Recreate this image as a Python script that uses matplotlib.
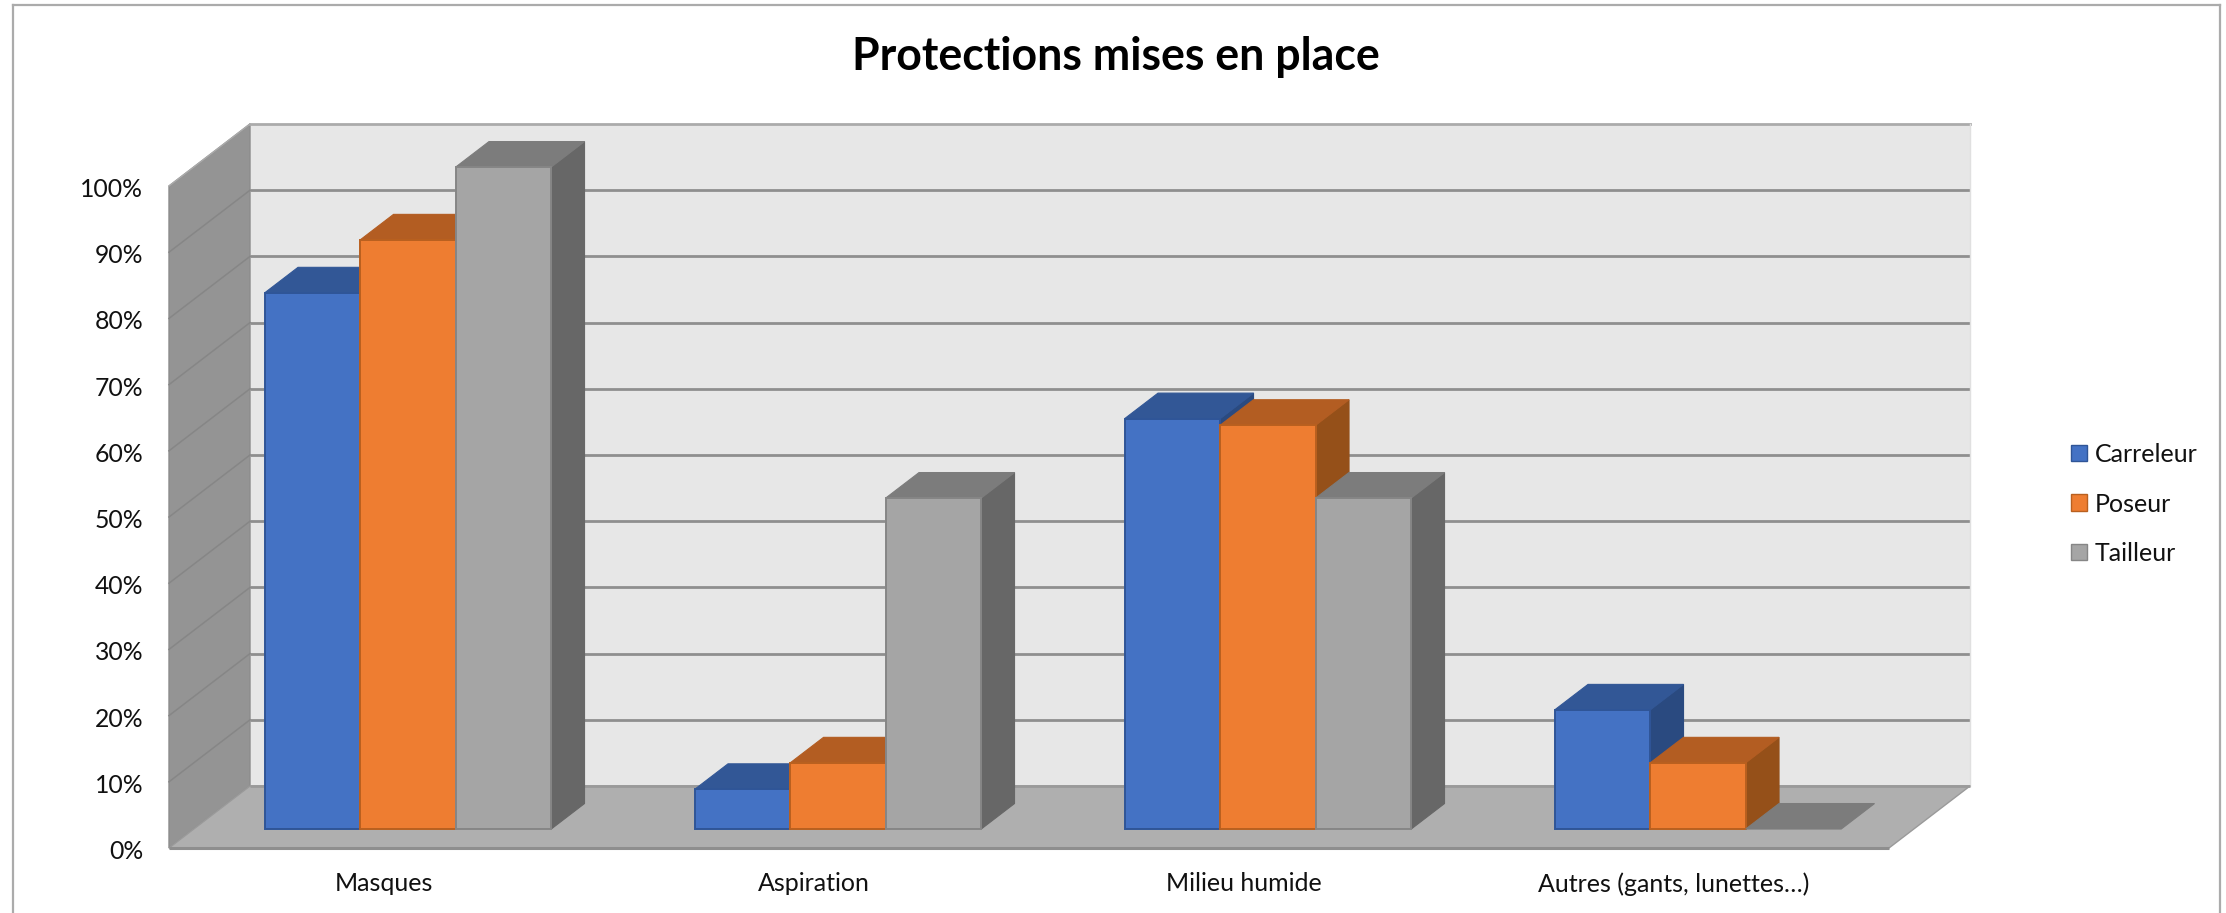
import matplotlib
matplotlib.use("Agg")
import matplotlib.pyplot as plt
from matplotlib.patches import Polygon, Patch
from matplotlib.lines import Line2D

plt.rcParams['font.family'] = ['Lato', 'DejaVu Sans']

title = "Protections mises en place"
categories = ["Masques", "Aspiration", "Milieu humide", "Autres (gants, lunettes…)"]
series_names = ["Carreleur", "Poseur", "Tailleur"]
carreleur = [81, 6, 62, 18]
poseur = [89, 10, 61, 10]
tailleur = [100, 50, 50, 0]
y_ticks = [0, 10, 20, 30, 40, 50, 60, 70, 80, 90, 100]
y_labels = ["0%", "10%", "20%", "30%", "40%", "50%", "60%", "70%", "80%", "90%", "100%"]

W, H = 2226, 913
fig = plt.figure(figsize=(W / 100, H / 100), dpi=100, facecolor="white")
ax = fig.add_axes([169 / W, (H - 848) / H, 1720 / W, 662 / H])
ax.set_xlim(0, len(categories))
ax.set_ylim(0, 100)
ax.patch.set_visible(False)
for s in ax.spines.values():
    s.set_visible(False)

# oblique projection of the depth axis, in data units
DX, DY = 81 / 430, 62 / 6.62


def P(x, y, d):
    return (x + d * DX, y + d * DY)


n = len(categories)
top = y_ticks[-1]
ax.add_patch(Polygon([P(0, 0, 1), P(n, 0, 1), P(n, top, 1), P(0, top, 1)], fc="#E7E7E7", ec="none", zorder=1, clip_on=False))
ax.add_patch(Polygon([P(0, 0, 0), P(0, 0, 1), P(0, top, 1), P(0, top, 0)], fc="#949494", ec="#8C8C8C", lw=1, zorder=2, clip_on=False))
for v in y_ticks[1:-1]:
    ax.plot(*zip(P(0, v, 1), P(n, v, 1)), color="#8F8F8F", lw=2.0, zorder=3, clip_on=False, solid_capstyle="butt")
    ax.plot(*zip(P(0, v, 0), P(0, v, 1)), color="#868686", lw=1.1, zorder=3, clip_on=False)
ax.plot(*zip(P(0, top, 1), P(n, top, 1)), color="#ABABAB", lw=2.0, zorder=3, clip_on=False)
ax.plot(*zip(P(0, top, 0), P(0, top, 1)), color="#ABABAB", lw=1.0, zorder=3, clip_on=False)
ax.plot(*zip(P(n, 0, 1), P(n, top, 1)), color="#E0E0E0", lw=1.0, zorder=3, clip_on=False)
ax.add_patch(Polygon([P(0, 0, 0), P(n, 0, 0), P(n, 0, 1), P(0, 0, 1)], fc="#AFAFAF", ec="#9A9A9A", lw=1.0, zorder=4, clip_on=False))
ax.plot(*zip(P(0, 0, 0), P(n, 0, 0)), color="#8E8E8E", lw=2.2, zorder=4.5, clip_on=False, solid_capstyle="butt")
ax.plot(*zip(P(0, 0, 1), P(n, 0, 1)), color="#9A9A9A", lw=2.0, zorder=4.5, clip_on=False, solid_capstyle="butt")

# bars
D0, D1 = 0.306, 0.717
BW = 95.5 / 430
GAP = 0.165
styles = [
    dict(front="#4472C4", edge="#2F5597", top="#325796", side="#2A4A80"),
    dict(front="#EE7D31", edge="#B9601F", top="#B35D22", side="#955019"),
    dict(front="#A5A5A5", edge="#868686", top="#7C7C7C", side="#676767"),
]
z = 5
for i in range(n):
    for j, vals in enumerate([carreleur, poseur, tailleur]):
        v = vals[i]
        st = styles[j]
        x0 = i + GAP + j * BW
        x1 = x0 + BW
        if v > 0:
            ax.add_patch(Polygon([P(x1, 0, D0), P(x1, 0, D1), P(x1, v, D1), P(x1, v, D0)],
                                 fc=st["side"], ec=st["side"], lw=0.8, zorder=z, clip_on=False))
        ax.add_patch(Polygon([P(x0, v, D0), P(x1, v, D0), P(x1, v, D1), P(x0, v, D1)],
                             fc=st["top"], ec=st["top"], lw=0.8, zorder=z + 0.1, clip_on=False))
        if v > 0:
            xb, yb = P(x0, 0, D0)
            ax.bar(xb, v, width=BW, bottom=yb, align="edge", color=st["front"],
                   edgecolor=st["edge"], linewidth=1.4, zorder=z + 0.2, clip_on=False)
        z += 1

ax.set_yticks(y_ticks)
ax.set_yticklabels(y_labels)
ax.set_xticks([i + 0.5 for i in range(n)])
ax.set_xticklabels(categories)
ax.tick_params(axis="y", length=0, pad=18.5, labelsize=17.8, labelcolor="#111111")
for lab in ax.get_yticklabels():
    lab.set_y(lab.get_position()[1])
    lab.set_transform(lab.get_transform() + matplotlib.transforms.ScaledTranslation(0, -1.5 / 100, fig.dpi_scale_trans))
ax.tick_params(axis="x", length=0, pad=17.5, labelsize=18, labelcolor="#111111")

fig.text(1116 / W, 1 - 57 / H, title, ha="center", va="center", fontsize=32.1, fontweight="bold", color="black")

handles = [Patch(facecolor=st["front"], edgecolor=st["edge"], linewidth=1.0) for st in styles]
fig.legend(handles, series_names, loc="center left", bbox_to_anchor=(2071 / W, 1 - 504 / H),
           bbox_transform=fig.transFigure, frameon=False, fontsize=18, borderpad=0, borderaxespad=0,
           handlelength=0.64, handleheight=0.64, handletextpad=0.32, labelspacing=1.06, labelcolor="#111111")

# chart frame
for xs, ys in [((13, 13), (0, H - 5.5)), ((13, 2220), (H - 5.5, H - 5.5)), ((2220, 2220), (H - 5.5, 0))]:
    fig.add_artist(Line2D([x / W for x in xs], [y / H for y in ys], color="#ABABAB", lw=1.6))

fig.savefig("out.png", dpi=100)
